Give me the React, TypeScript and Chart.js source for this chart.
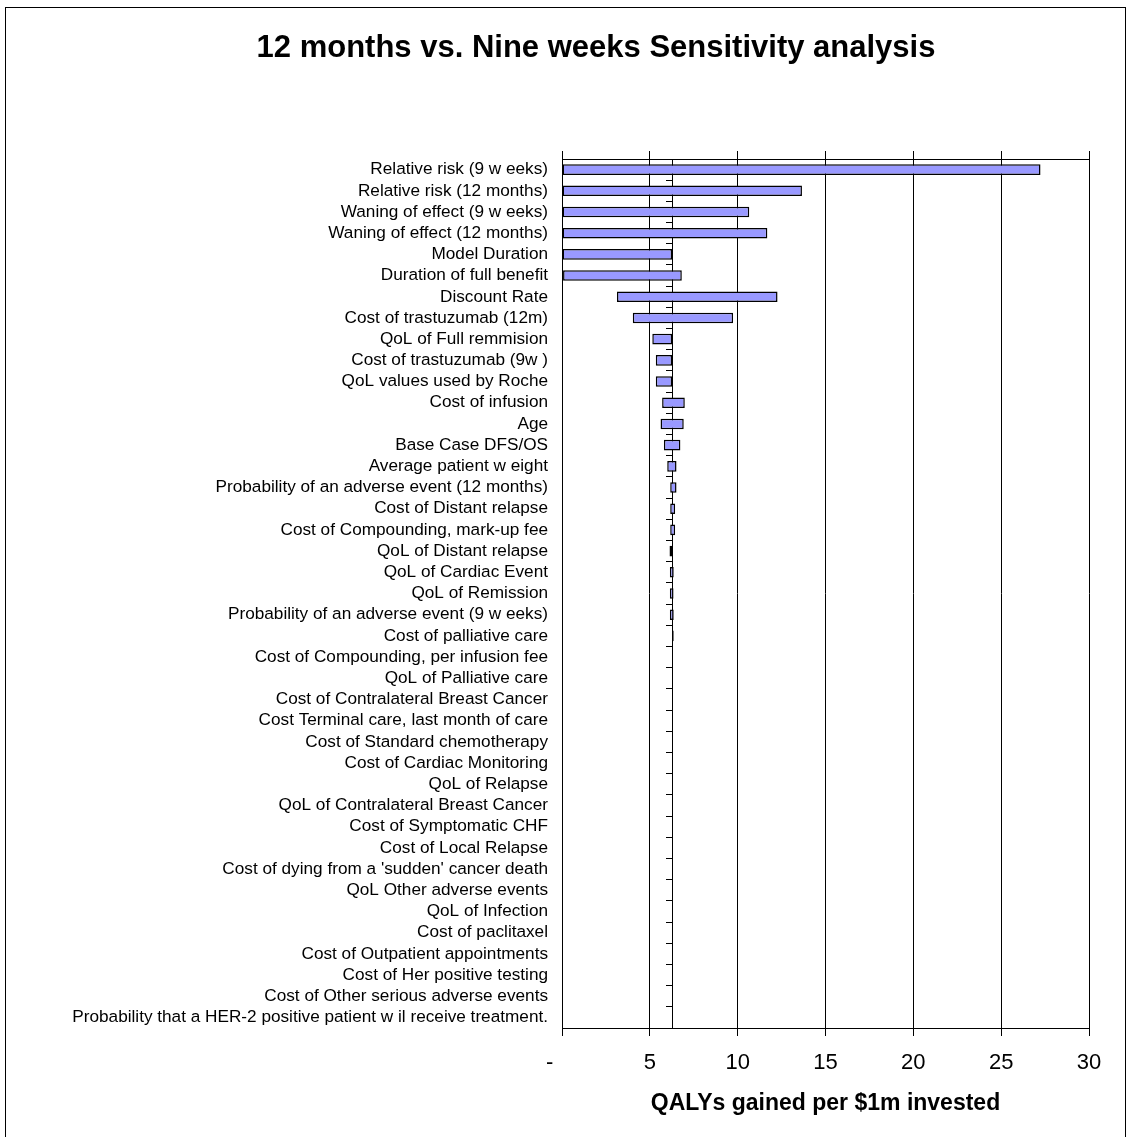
import React, { useEffect, useRef } from "react";
import { Chart, registerables } from "chart.js";

Chart.register(...registerables);

const TITLE = "12 months vs. Nine weeks Sensitivity analysis";
const AXIS_TITLE = "QALYs gained per $1m invested";

// Base-case result; every bar runs between the low and high estimate.
const BASE = 6.27;

const X_MIN = 0;
const X_MAX = 30;
const X_STEP = 5;

const PARAMETERS = [
  "Relative risk (9 w eeks)",
  "Relative risk (12 months)",
  "Waning of effect (9 w eeks)",
  "Waning of effect (12 months)",
  "Model Duration",
  "Duration of full benefit",
  "Discount Rate",
  "Cost of trastuzumab (12m)",
  "QoL of Full remmision",
  "Cost of trastuzumab (9w )",
  "QoL values used by Roche",
  "Cost of infusion",
  "Age",
  "Base Case DFS/OS",
  "Average patient w eight",
  "Probability of an adverse event (12 months)",
  "Cost of Distant relapse",
  "Cost of Compounding, mark-up fee",
  "QoL of Distant relapse",
  "QoL of Cardiac Event",
  "QoL of Remission",
  "Probability of an adverse event (9 w eeks)",
  "Cost of palliative care",
  "Cost of Compounding, per infusion fee",
  "QoL of Palliative care",
  "Cost of Contralateral Breast Cancer",
  "Cost Terminal care, last month of care",
  "Cost of Standard chemotherapy",
  "Cost of Cardiac Monitoring",
  "QoL of Relapse",
  "QoL of Contralateral Breast Cancer",
  "Cost of Symptomatic CHF",
  "Cost of Local Relapse",
  "Cost of dying from a 'sudden' cancer death",
  "QoL Other adverse events",
  "QoL of Infection",
  "Cost of paclitaxel",
  "Cost of Outpatient appointments",
  "Cost of Her positive testing",
  "Cost of Other serious adverse events",
  "Probability that a HER-2 positive patient w il receive treatment.",
];

const LOW = [
  0, 0, 0, 0, 0, 0.06, 3.13, 4.03, 5.14, 5.34, 5.34, 5.7, 5.61, 5.8, 5.99,
  6.16, 6.16, 6.16, 6.12, 6.14, 6.14, 6.14, 6.27, 6.27, 6.27, 6.27, 6.27, 6.27,
  6.27, 6.27, 6.27, 6.27, 6.27, 6.27, 6.27, 6.27, 6.27, 6.27, 6.27, 6.27, 6.27,
];

const HIGH = [
  27.24, 13.66, 10.66, 11.69, 6.27, 6.82, 12.27, 9.74, 6.27, 6.27, 6.27, 6.99,
  6.93, 6.74, 6.52, 6.52, 6.44, 6.44, 6.27, 6.36, 6.35, 6.36, 6.36, 6.27, 6.27,
  6.27, 6.27, 6.27, 6.27, 6.27, 6.27, 6.27, 6.27, 6.27, 6.27, 6.27, 6.27, 6.27,
  6.27, 6.27, 6.27,
];

const FONT = "'Liberation Sans', Arial, sans-serif";

function TornadoChart() {
  const canvasRef = useRef<HTMLCanvasElement | null>(null);

  useEffect(() => {
    const canvas = canvasRef.current;
    if (!canvas) return;
    Chart.defaults.font.family = FONT;
    Chart.defaults.color = "#000";

    const chart = new Chart(canvas, {
      type: "bar",
      data: {
        labels: PARAMETERS,
        datasets: [
          {
            data: PARAMETERS.map((_, i) => [LOW[i], HIGH[i]]) as any,
            backgroundColor: "#9999FF",
            borderColor: "#000",
            borderWidth: 1.5,
            borderSkipped: false,
            barPercentage: 0.5,
            categoryPercentage: 1,
          },
        ],
      },
      options: {
        indexAxis: "y",
        animation: false,
        responsive: false,
        events: [],
        layout: { padding: { left: 0, right: 36, top: 143, bottom: 0 } },
        plugins: {
          legend: { display: false },
          tooltip: { enabled: false },
          title: { display: false },
        },
        scales: {
          x: {
            type: "linear",
            position: "bottom",
            min: X_MIN,
            max: X_MAX,
            ticks: {
              stepSize: X_STEP,
              padding: 14,
              color: "#000",
              maxRotation: 0,
              font: { family: FONT, size: 22 },
              callback: (v: any) => (Number(v) === 0 ? "-    " : String(v)),
            },
            grid: { color: "#000", lineWidth: 1, tickLength: 8 },
            border: { color: "#000" },
            title: {
              display: true,
              text: AXIS_TITLE,
              color: "#000",
              font: { family: FONT, size: 23, weight: "bold", lineHeight: 1.2 },
              padding: { top: 0, bottom: 19.2 },
            },
            afterFit: (s: any) => {
              s.height = 109;
            },
          },
          xTop: {
            type: "linear",
            position: "top",
            min: X_MIN,
            max: X_MAX,
            ticks: { stepSize: X_STEP, display: false },
            grid: { drawOnChartArea: false, tickLength: 8, color: "#000" },
            border: { color: "#000" },
            afterFit: (s: any) => {
              s.height = 8;
            },
          },
          y: {
            type: "category",
            position: "left",
            offset: true,
            ticks: {
              autoSkip: false,
              padding: 6,
              color: "#000",
              font: { family: FONT, size: 17.2 },
            },
            grid: { display: false },
            border: { display: true, color: "#000" },
            afterFit: (s: any) => {
              s.width = 556;
            },
          },
          yBase: {
            type: "category",
            axis: "y",
            position: { x: BASE },
            offset: true,
            grid: {
              drawOnChartArea: false,
              offset: true,
              tickLength: 6,
              color: "#000",
            },
            ticks: { display: false, autoSkip: false },
            border: { display: true, color: "#000" },
          },
        } as any,
      },
    });

    return () => chart.destroy();
  }, []);

  return (
    <canvas
      ref={canvasRef}
      width={1119}
      height={1129}
      style={{ position: "absolute", left: 0, top: 0, display: "block" }}
    />
  );
}

export default function App() {
  return (
    <div
      style={{
        position: "fixed",
        left: 0,
        top: 0,
        width: 1128,
        height: 1137,
        overflow: "hidden",
        background: "#fff",
      }}
    >
      <div
        style={{
          position: "absolute",
          left: 5,
          top: 7,
          width: 1121,
          height: 1140,
          border: "1px solid #000",
          boxSizing: "border-box",
          background: "#fff",
        }}
      >
        <TornadoChart />
        <div
          style={{
            position: "absolute",
            left: 97,
            width: 986,
            top: 21,
            textAlign: "center",
            fontFamily: FONT,
            fontWeight: "bold",
            fontSize: 31,
            lineHeight: "36px",
            color: "#000",
            whiteSpace: "nowrap",
          }}
        >
          {TITLE}
        </div>
      </div>
    </div>
  );
}
